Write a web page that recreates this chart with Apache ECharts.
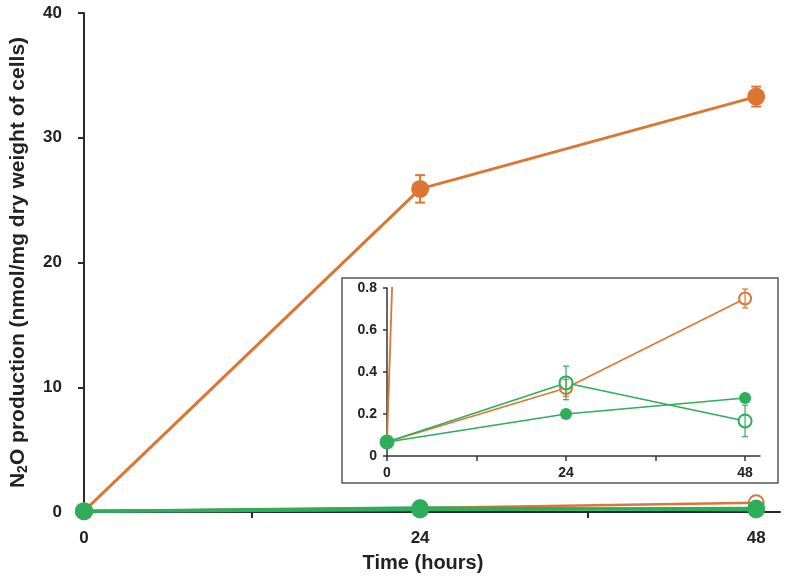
<!DOCTYPE html>
<html>
<head>
<meta charset="utf-8">
<script src="https://cdn.jsdelivr.net/npm/echarts@6/dist/echarts.min.js"></script>
<style>
html,body{margin:0;padding:0;background:#fff;}
#chart{width:790px;height:583px;}
</style>
</head>
<body>
<div id="chart"></div>
<script>
// ---- data ----
var hours = [0, 24, 48];
var orangeFilled = [0.067, 25.9, 33.3];
var orangeFilledErr = [0, 1.1, 0.8];
var orangeOpen = [0.067, 0.324, 0.75];
var orangeOpenErr = [0, 0.04, 0.045];
var greenOpen = [0.067, 0.348, 0.167];
var greenOpenErr = [0, 0.08, 0.075];
var greenFilled = [0.067, 0.20, 0.276];
var mainYTicks = [0, 10, 20, 30, 40];
var insetYTicks = [0, 0.2, 0.4, 0.6, 0.8];
var xLabelTicks = [0, 24, 48];
var xMinorTicks = [0, 12, 24, 36, 48];

var ORANGE = '#DD7632';
var GREEN = '#2EAD5B';
var FONT = "'Liberation Sans', Arial, sans-serif";

function pairs(vals) { return hours.map(function (h, i) { return [h, vals[i]]; }); }
function errData(vals, errs) {
  var out = [];
  hours.forEach(function (h, i) { if (errs[i] > 0) out.push([h, vals[i] - errs[i], vals[i] + errs[i]]); });
  return out;
}
function errSeries(vals, errs, color, xi, yi, cap, lw, z) {
  return {
    type: 'custom', xAxisIndex: xi, yAxisIndex: yi, z: z,
    data: errData(vals, errs),
    encode: { x: 0, y: [1, 2] },
    renderItem: function (params, api) {
      var x = api.value(0);
      var lo = api.coord([x, api.value(1)]);
      var hi = api.coord([x, api.value(2)]);
      var st = { stroke: color, lineWidth: lw };
      return {
        type: 'group', children: [
          { type: 'line', shape: { x1: lo[0], y1: lo[1], x2: hi[0], y2: hi[1] }, style: st },
          { type: 'line', shape: { x1: lo[0] - cap, y1: lo[1], x2: lo[0] + cap, y2: lo[1] }, style: st },
          { type: 'line', shape: { x1: hi[0] - cap, y1: hi[1], x2: hi[0] + cap, y2: hi[1] }, style: st }
        ]
      };
    }
  };
}

var chart = echarts.init(document.getElementById('chart'), null, { renderer: 'canvas' });
var option = {
  backgroundColor: '#fff',
  animation: false,
  graphic: [{
    type: 'rect', z: 1, silent: true,
    shape: { x: 342, y: 278, width: 436, height: 205 },
    style: { fill: '#fff', stroke: '#555', lineWidth: 1.5 }
  }],
  grid: [
    { left: 84, top: 13, right: 10, bottom: 71, containLabel: false },
    { left: 387, top: 288, right: 30, bottom: 127, containLabel: false, z: 5 }
  ],
  xAxis: [
    {
      gridIndex: 0, type: 'value', min: 0, max: 49.7,
      axisLine: { lineStyle: { color: '#2a2a2a', width: 2 } },
      axisTick: { show: true, customValues: xMinorTicks, length: 6, lineStyle: { color: '#2a2a2a', width: 2 } },
      axisLabel: { customValues: xLabelTicks, margin: 18, color: '#222', fontFamily: FONT, fontWeight: 'bold', fontSize: 17 },
      splitLine: { show: false },
      name: 'Time (hours)', nameLocation: 'middle', nameGap: 41,
      nameTextStyle: { color: '#222', fontFamily: FONT, fontWeight: 'bold', fontSize: 20, padding: [0, 18, 0, 0] }
    },
    {
      gridIndex: 1, type: 'value', min: 0, max: 50, z: 6,
      axisLine: { lineStyle: { color: '#333', width: 1.5 } },
      axisTick: { show: true, customValues: xMinorTicks, length: 5, lineStyle: { color: '#333', width: 1.5 } },
      axisLabel: { customValues: xLabelTicks, margin: 10, color: '#222', fontFamily: FONT, fontWeight: 'bold', fontSize: 14 },
      splitLine: { show: false }
    }
  ],
  yAxis: [
    {
      gridIndex: 0, type: 'value', min: 0, max: 40,
      axisLine: { show: true, lineStyle: { color: '#2a2a2a', width: 2 } },
      axisTick: { show: true, customValues: mainYTicks, length: 6, lineStyle: { color: '#2a2a2a', width: 2 } },
      axisLabel: { customValues: mainYTicks, margin: 22, color: '#222', fontFamily: FONT, fontWeight: 'bold', fontSize: 17 },
      splitLine: { show: false },
      name: '{a|N}{s|2}{a|O production (nmol/mg dry weight of cells)}',
      nameLocation: 'middle', nameGap: 54, nameRotate: 90,
      nameTextStyle: {
        color: '#222', fontFamily: FONT, fontWeight: 'bold', fontSize: 21,
        rich: {
          a: { color: '#222', fontFamily: FONT, fontWeight: 'bold', fontSize: 21 },
          s: { color: '#222', fontFamily: FONT, fontWeight: 'bold', fontSize: 14, verticalAlign: 'bottom', padding: [9, 0, 0, 0] }
        }
      }
    },
    {
      gridIndex: 1, type: 'value', min: 0, max: 0.8, z: 6,
      axisLine: { show: true, lineStyle: { color: '#333', width: 1.5 } },
      axisTick: { show: true, customValues: insetYTicks, length: 4, lineStyle: { color: '#333', width: 1.5 } },
      axisLabel: {
        customValues: insetYTicks, margin: 10, color: '#222', fontFamily: FONT, fontWeight: 'bold', fontSize: 14,
        formatter: function (v) { return v === 0 ? '0' : v.toFixed(1); }
      },
      splitLine: { show: false }
    }
  ],
  series: [
    // main chart
    { type: 'line', xAxisIndex: 0, yAxisIndex: 0, z: 2, data: pairs(orangeOpen), symbol: 'emptyCircle', symbolSize: 15,
      lineStyle: { color: ORANGE, width: 2.5 }, itemStyle: { color: ORANGE, borderWidth: 2.5 } },
    { type: 'line', xAxisIndex: 0, yAxisIndex: 0, z: 2, data: pairs(greenOpen), symbol: 'emptyCircle', symbolSize: 15,
      lineStyle: { color: GREEN, width: 3 }, itemStyle: { color: GREEN, borderWidth: 2.5 } },
    { type: 'line', xAxisIndex: 0, yAxisIndex: 0, z: 3, data: pairs(orangeFilled), symbol: 'circle', symbolSize: 18,
      lineStyle: { color: ORANGE, width: 3 }, itemStyle: { color: ORANGE } },
    { type: 'line', xAxisIndex: 0, yAxisIndex: 0, z: 4, data: pairs(greenFilled), symbol: 'circle', symbolSize: 18,
      lineStyle: { color: GREEN, width: 3.5 }, itemStyle: { color: GREEN } },
    errSeries(orangeFilled, orangeFilledErr, ORANGE, 0, 0, 5, 2, 3),
    // inset chart
    { type: 'line', xAxisIndex: 1, yAxisIndex: 1, z: 7, data: pairs(orangeFilled), symbol: 'circle', symbolSize: 12, clip: true,
      lineStyle: { color: ORANGE, width: 1.8 }, itemStyle: { color: ORANGE } },
    { type: 'line', xAxisIndex: 1, yAxisIndex: 1, z: 7, data: pairs(orangeOpen), symbol: 'emptyCircle', symbolSize: 12,
      lineStyle: { color: ORANGE, width: 1.5 }, itemStyle: { color: ORANGE, borderWidth: 1.5 } },
    { type: 'line', xAxisIndex: 1, yAxisIndex: 1, z: 7, data: pairs(greenOpen), symbol: 'emptyCircle', symbolSize: 13,
      lineStyle: { color: GREEN, width: 1.5 }, itemStyle: { color: GREEN, borderWidth: 1.5 } },
    { type: 'line', xAxisIndex: 1, yAxisIndex: 1, z: 8, data: pairs(greenFilled), symbol: 'circle', symbolSize: 12,
      lineStyle: { color: GREEN, width: 1.5 }, itemStyle: { color: GREEN } },
    errSeries(orangeOpen, orangeOpenErr, ORANGE, 1, 1, 3, 1.2, 9),
    errSeries(greenOpen, greenOpenErr, GREEN, 1, 1, 3, 1.2, 9)
  ]
};
chart.setOption(option);
</script>
</body>
</html>
